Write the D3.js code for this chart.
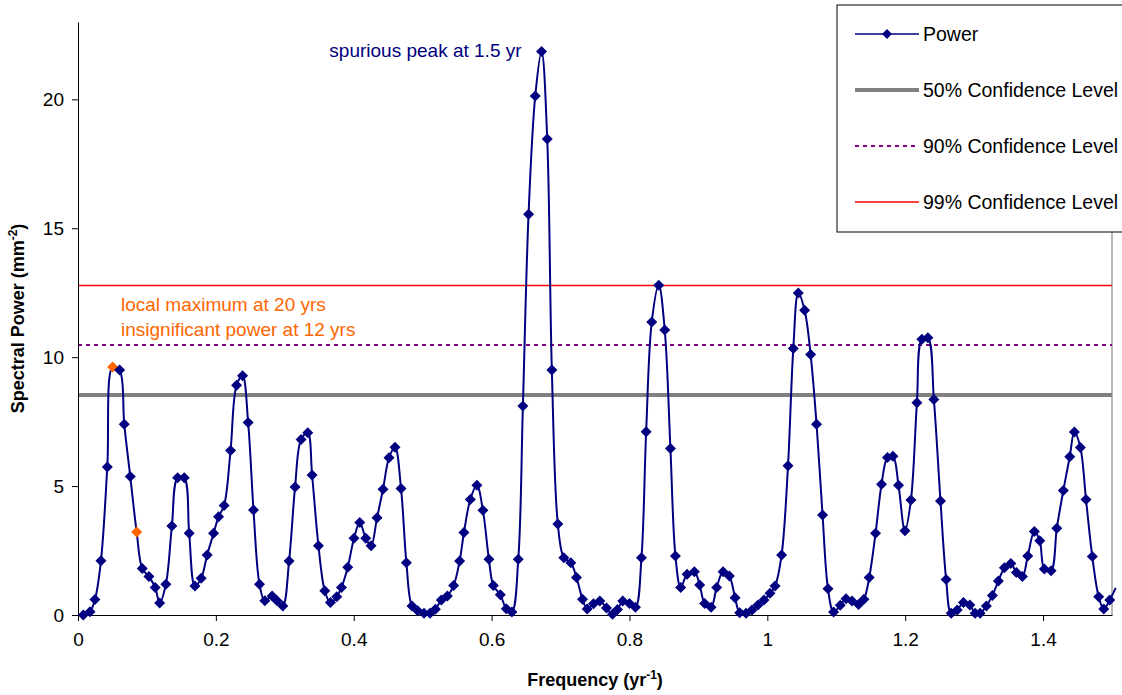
<!DOCTYPE html>
<html>
<head>
<meta charset="utf-8">
<script src="https://cdn.jsdelivr.net/npm/d3@7/dist/d3.min.js"></script>
<style>
  body { margin: 0; background: #fff; }
  text { font-family: Arial, "Liberation Sans", sans-serif; }
  .axis path, .axis line { stroke: #000; }
  .axis text { font-size: 19px; fill: #000; }
</style>
</head>
<body>
<svg id="chart" width="1122" height="695"></svg>
<script>
// frequency (1/yr) of each periodogram point
const frequency = [
  0.0077, 0.0174, 0.0246, 0.0333, 0.0425, 0.0503, 0.0604, 0.0671, 0.0758, 0.0851,
  0.0932, 0.1029, 0.1120, 0.1184, 0.1275, 0.1362, 0.1445, 0.1541, 0.1613, 0.1696,
  0.1787, 0.1874, 0.1967, 0.2039, 0.2120, 0.2213, 0.2300, 0.2387, 0.2468, 0.2546,
  0.2633, 0.2710, 0.2816, 0.2888, 0.2971, 0.3062, 0.3149, 0.3236, 0.3333, 0.3396,
  0.3488, 0.3580, 0.3662, 0.3754, 0.3822, 0.3913, 0.4004, 0.4087, 0.4174, 0.4251,
  0.4338, 0.4425, 0.4512, 0.4599, 0.4686, 0.4764, 0.4845, 0.4928, 0.5019, 0.5106,
  0.5184, 0.5271, 0.5358, 0.5449, 0.5536, 0.5599, 0.5691, 0.5787, 0.5874, 0.5961,
  0.6025, 0.6126, 0.6213, 0.6294, 0.6387, 0.6454, 0.6536, 0.6633, 0.6725, 0.6807,
  0.6874, 0.6961, 0.7048, 0.7149, 0.7232, 0.7319, 0.7387, 0.7478, 0.7570, 0.7667,
  0.7754, 0.7826, 0.7903, 0.8000, 0.8087, 0.8174, 0.8242, 0.8323, 0.8425, 0.8512,
  0.8594, 0.8667, 0.8743, 0.8836, 0.8942, 0.9019, 0.9091, 0.9184, 0.9265, 0.9358,
  0.9449, 0.9532, 0.9599, 0.9691, 0.9778, 0.9865, 0.9952, 1.0039, 1.0112, 1.0207,
  1.0300, 1.0377, 1.0449, 1.0541, 1.0628, 1.0714, 1.0801, 1.0880, 1.0961, 1.1058,
  1.1141, 1.1228, 1.1323, 1.1401, 1.1478, 1.1570, 1.1657, 1.1743, 1.1822, 1.1903,
  1.1996, 1.2083, 1.2170, 1.2242, 1.2329, 1.2416, 1.2512, 1.2594, 1.2667, 1.2754,
  1.2845, 1.2938, 1.3014, 1.3087, 1.3178, 1.3265, 1.3352, 1.3439, 1.3532, 1.3613,
  1.3700, 1.3778, 1.3874, 1.3952, 1.4019, 1.4116, 1.4199, 1.4294, 1.4387, 1.4454,
  1.4541, 1.4623, 1.4714, 1.4807, 1.4880, 1.4967, 1.5054
];

// spectral power (mm^-2)
const power = [
  0.00, 0.13, 0.60, 2.10, 5.74, 9.62, 9.50, 7.40, 5.37, 3.22,
  1.80, 1.49, 1.07, 0.47, 1.19, 3.45, 5.32, 5.32, 3.17, 1.12,
  1.43, 2.33, 3.17, 3.81, 4.25, 6.38, 8.91, 9.28, 7.47, 4.07,
  1.19, 0.55, 0.74, 0.55, 0.35, 2.09, 4.96, 6.81, 7.07, 5.43,
  2.69, 0.94, 0.48, 0.71, 1.07, 1.85, 2.98, 3.59, 2.98, 2.69,
  3.77, 4.88, 6.10, 6.51, 4.91, 2.03, 0.35, 0.16, 0.07, 0.07,
  0.22, 0.58, 0.74, 1.14, 2.09, 3.20, 4.48, 5.03, 4.06, 2.16,
  1.14, 0.79, 0.24, 0.12, 2.16, 8.11, 15.54, 20.13, 21.86, 18.46,
  9.50, 3.53, 2.22, 2.03, 1.45, 0.61, 0.23, 0.44, 0.54, 0.27,
  0.03, 0.21, 0.54, 0.45, 0.30, 2.22, 7.11, 11.36, 12.79, 11.05,
  6.46, 2.29, 1.07, 1.58, 1.68, 1.16, 0.45, 0.30, 1.07, 1.68,
  1.51, 0.67, 0.09, 0.07, 0.19, 0.39, 0.58, 0.84, 1.12, 2.33,
  5.79, 10.34, 12.49, 11.82, 10.10, 7.40, 3.88, 1.02, 0.12, 0.38,
  0.63, 0.54, 0.41, 0.61, 1.45, 3.17, 5.07, 6.11, 6.16, 5.03,
  3.27, 4.46, 8.23, 10.70, 10.75, 8.36, 4.42, 1.38, 0.07, 0.19,
  0.48, 0.39, 0.07, 0.07, 0.35, 0.76, 1.32, 1.83, 2.00, 1.65,
  1.49, 2.29, 3.24, 2.88, 1.78, 1.72, 3.36, 4.83, 6.14, 7.10,
  6.50, 4.48, 2.27, 0.71, 0.23, 0.58, 1.05
];

// points marked in orange (20 yr and 12 yr)
const highlightIdx = [5, 9];

const levelNames = ['50% Confidence Level', '90% Confidence Level', '99% Confidence Level'];
const levelValues = [8.53, 10.47, 12.78];

const xTickValues = [0, 0.2, 0.4, 0.6, 0.8, 1, 1.2, 1.4];
const yTickValues = [0, 5, 10, 15, 20];

const periodogram = (function () {
  const pg = {};

  const levelStyles = [
    {stroke: '#808080', width: 4, dash: null},
    {stroke: '#800080', width: 2, dash: '4,4'},
    {stroke: '#ff0000', width: 1.5, dash: null}
  ];

  const diamond = r => `M0,${-r}L${r},0L0,${r}L${-r},0Z`;

  pg.draw = function (svgId) {
    const svg = d3.select(`#${svgId}`);
    const margin = {left: 78, right: 10, top: 22, bottom: 80};
    const innerWidth = 1112 - margin.left;
    const innerHeight = 615 - margin.top;

    const xScale = d3.scaleLinear().domain([0, 1.5]).range([0, innerWidth]);
    const yScale = d3.scaleLinear().domain([0, 23]).range([innerHeight, 0]);

    const viewPort = svg.append('g')
      .attr('transform', `translate(${margin.left}, ${margin.top})`);

    // right border of the plot area
    viewPort.append('line')
      .attr('x1', innerWidth).attr('x2', innerWidth)
      .attr('y1', 0).attr('y2', innerHeight)
      .attr('stroke', '#a0a0a0').attr('stroke-width', 1.5);

    // confidence levels
    viewPort.selectAll('.level')
      .data(levelValues)
      .enter()
      .append('line')
        .attr('class', 'level')
        .attr('x1', 0).attr('x2', innerWidth)
        .attr('y1', d => yScale(d)).attr('y2', d => yScale(d))
        .attr('stroke', (d, i) => levelStyles[i].stroke)
        .attr('stroke-width', (d, i) => levelStyles[i].width)
        .attr('stroke-dasharray', (d, i) => levelStyles[i].dash);

    const xAxis = d3.axisBottom(xScale)
      .tickValues(xTickValues)
      .tickFormat(d3.format(''))
      .tickSizeInner(6).tickSizeOuter(0)
      .tickPadding(12);
    viewPort.append('g')
      .attr('class', 'axis')
      .attr('transform', `translate(0, ${innerHeight})`)
      .call(xAxis);

    const yAxis = d3.axisLeft(yScale)
      .tickValues(yTickValues)
      .tickSizeInner(6).tickSizeOuter(0)
      .tickPadding(8);
    viewPort.append('g')
      .attr('class', 'axis')
      .call(yAxis);

    const points = frequency.map((f, i) => ({f: f, p: power[i], hi: highlightIdx.includes(i)}));

    const line = d3.line()
      .x(d => xScale(d.f))
      .y(d => yScale(d.p))
      .curve(d3.curveCatmullRom.alpha(0.5));

    viewPort.append('path')
      .datum(points)
      .attr('d', line)
      .attr('fill', 'none')
      .attr('stroke', '#000080')
      .attr('stroke-width', 2);

    viewPort.selectAll('.marker')
      .data(points.filter(d => d.f <= 1.5))
      .enter()
      .append('path')
        .attr('class', 'marker')
        .attr('d', diamond(5.5))
        .attr('transform', d => `translate(${xScale(d.f)}, ${yScale(d.p)})`)
        .attr('fill', d => d.hi ? '#ff6600' : '#000080');

    // annotations
    viewPort.append('text')
      .attr('x', xScale(0.6725) - 20)
      .attr('y', yScale(21.86) + 6)
      .attr('text-anchor', 'end')
      .attr('font-size', '19px')
      .attr('fill', '#000080')
      .text('spurious peak at 1.5 yr');

    viewPort.append('text')
      .attr('x', 43).attr('y', 289)
      .attr('font-size', '19px')
      .attr('fill', '#ff6600')
      .text('local maximum at 20 yrs');
    viewPort.append('text')
      .attr('x', 43).attr('y', 314)
      .attr('font-size', '19px')
      .attr('fill', '#ff6600')
      .text('insignificant power at 12 yrs');

    // axis titles
    const xTitle = svg.append('text')
      .attr('x', margin.left + innerWidth / 2)
      .attr('y', 686)
      .attr('text-anchor', 'middle')
      .attr('font-size', '18px')
      .attr('font-weight', 'bold');
    xTitle.append('tspan').text('Frequency (yr');
    xTitle.append('tspan').attr('dy', -7).attr('font-size', '12px').text('-1');
    xTitle.append('tspan').attr('dy', 7).text(')');

    const yTitle = svg.append('text')
      .attr('transform', `translate(24, ${margin.top + innerHeight / 2}) rotate(-90)`)
      .attr('text-anchor', 'middle')
      .attr('font-size', '18px')
      .attr('font-weight', 'bold');
    yTitle.append('tspan').text('Spectral Power (mm');
    yTitle.append('tspan').attr('dy', -7).attr('font-size', '12px').text('-2');
    yTitle.append('tspan').attr('dy', 7).text(')');

    // legend
    const legend = svg.append('g').attr('transform', 'translate(837, 5)');
    legend.append('rect')
      .attr('width', 300).attr('height', 227)
      .attr('fill', '#fff').attr('stroke', '#000').attr('stroke-width', 1);

    const legendRows = [{name: 'Power'}].concat(levelNames.map((n, i) => ({name: n, style: levelStyles[i]})));
    const rows = legend.selectAll('.lrow')
      .data(legendRows)
      .enter()
      .append('g')
        .attr('class', 'lrow')
        .attr('transform', (d, i) => `translate(0, ${29 + i * 56})`);

    rows.append('line')
      .attr('x1', 18).attr('x2', 82)
      .attr('stroke', d => d.style ? d.style.stroke : '#000080')
      .attr('stroke-width', d => d.style ? d.style.width : 1.5)
      .attr('stroke-dasharray', d => d.style ? d.style.dash : null);
    rows.filter(d => !d.style)
      .append('path')
      .attr('d', diamond(5))
      .attr('transform', 'translate(50, 0)')
      .attr('fill', '#000080');
    rows.append('text')
      .attr('x', 86).attr('dy', '0.35em')
      .attr('font-size', '19.5px')
      .text(d => d.name);

    pg.svg = svg;
    return svg;
  };

  return pg;
})();

periodogram.draw('chart');
</script>
</body>
</html>
